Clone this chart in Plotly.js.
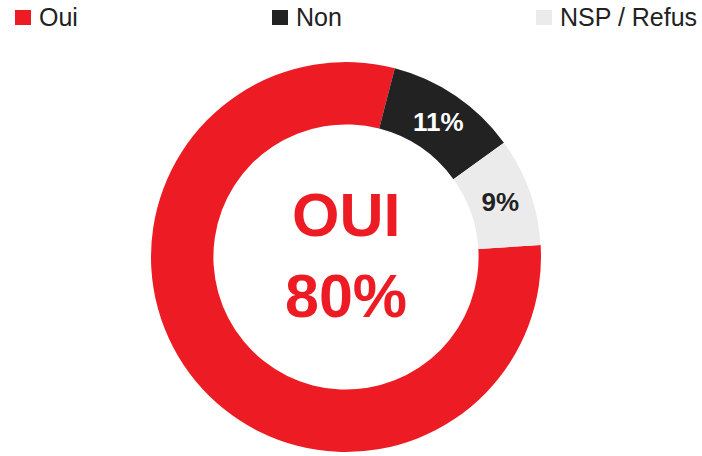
<!DOCTYPE html>
<html>
<head>
<meta charset="utf-8">
<script src="https://cdn.plot.ly/plotly-3.0.1.min.js"></script>
<style>html,body{margin:0;padding:0;background:#fff;}#chart{width:702px;height:456px;}</style>
</head>
<body>
<div id="chart"></div>
<script>
const labels = ['Oui', 'Non', 'NSP / Refus'];
const values = [80, 11, 9];
const colors = ['#ED1C24', '#222222', '#EBEBEB'];
const labelColors = ['#ffffff', '#ffffff', '#222222'];
const centerTitle = 'OUI';
const centerValue = values[0] + '%';

const W = 702, H = 456;
const cx = 346, cy = 257, R = 195;
// legend layout (pixel positions of each swatch's left edge)
const legendX = [15, 272, 536];
const legendTop = 10, legendSwatch = 16, legendTextMid = 17;

const sliceText = values.map((v, i) => i === 0 ? '' : v + '%');

const trace = {
  type: 'pie',
  labels: labels,
  values: values,
  text: sliceText,
  textinfo: 'text',
  textposition: 'inside',
  insidetextorientation: 'horizontal',
  textfont: {family: 'Liberation Sans, Arial, sans-serif', size: 26, color: labelColors, weight: 'bold'},
  hole: 0.68,
  sort: false,
  direction: 'clockwise',
  rotation: 86.5,
  marker: {colors: colors, line: {width: 0}},
  domain: {x: [(cx - R) / W, (cx + R) / W], y: [(H - cy - R) / H, (H - cy + R) / H]},
  hoverinfo: 'label+percent',
  showlegend: false
};

const px = x => x / W;
const py = y => 1 - y / H;

const legendShapes = labels.map((l, i) => ({
  type: 'rect', xref: 'paper', yref: 'paper',
  x0: px(legendX[i]), x1: px(legendX[i] + legendSwatch),
  y0: py(legendTop + legendSwatch - 1), y1: py(legendTop),
  fillcolor: colors[i], line: {width: 0}
}));

const legendAnnotations = labels.map((l, i) => ({
  text: l, xref: 'paper', yref: 'paper', showarrow: false,
  x: px(legendX[i] + 22), y: py(legendTextMid), xanchor: 'left', yanchor: 'middle',
  font: {family: 'Liberation Sans, Arial, sans-serif', size: 25, color: '#222222'}
}));

const layout = {
  width: W, height: H,
  margin: {l: 0, r: 0, t: 0, b: 0},
  paper_bgcolor: '#ffffff',
  showlegend: false,
  shapes: legendShapes,
  annotations: [
    {text: centerTitle, x: px(cx), y: py(215), xref: 'paper', yref: 'paper', showarrow: false,
     font: {family: 'Liberation Sans, Arial, sans-serif', size: 61, color: '#ED1C24', weight: 'bold'}},
    {text: centerValue, x: px(cx), y: py(296), xref: 'paper', yref: 'paper', showarrow: false,
     font: {family: 'Liberation Sans, Arial, sans-serif', size: 61, color: '#ED1C24', weight: 'bold'}}
  ].concat(legendAnnotations)
};

Plotly.newPlot('chart', [trace], layout, {displayModeBar: false, staticPlot: true});
</script>
</body>
</html>
